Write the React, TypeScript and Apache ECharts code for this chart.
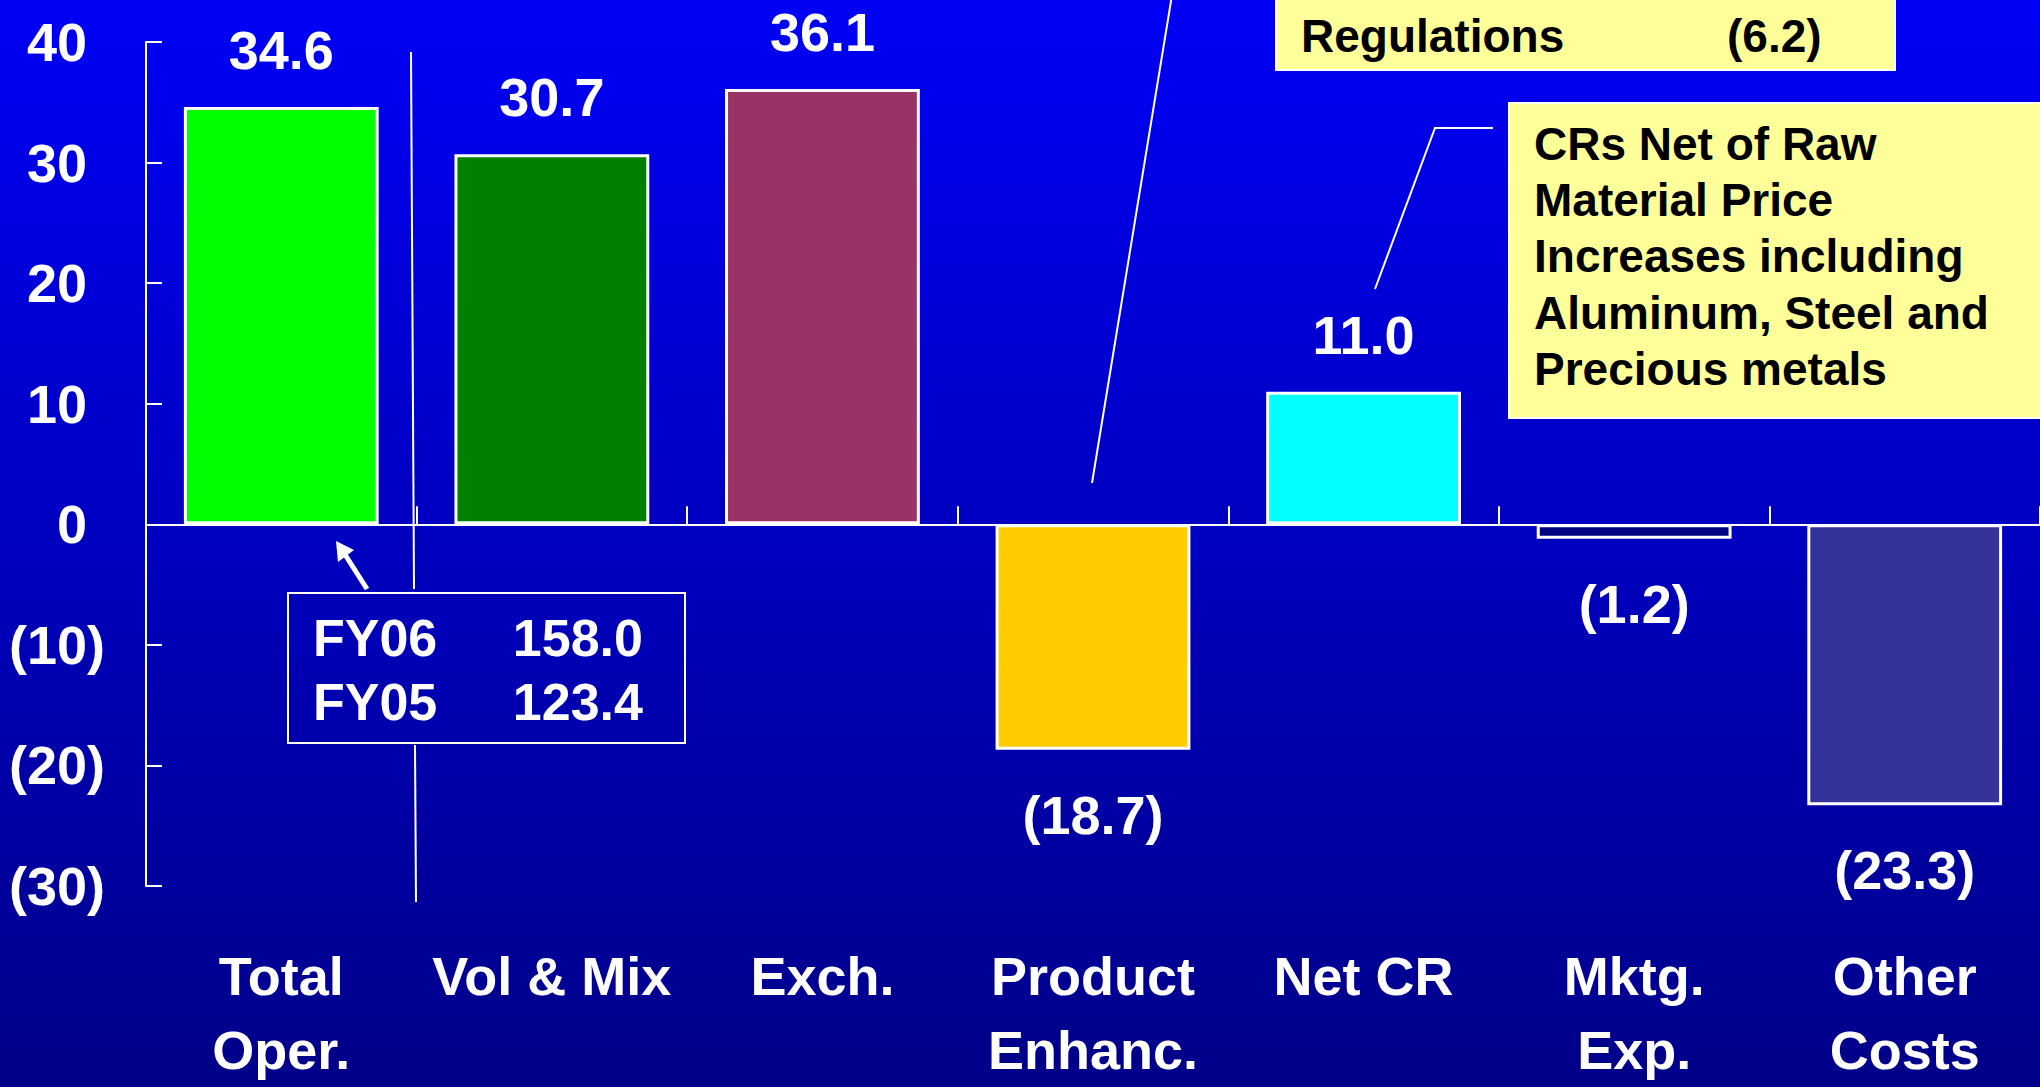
import React, { useEffect, useRef } from "react";
import * as echarts from "echarts";

const categories = ["Total\nOper.", "Vol & Mix", "Exch.", "Product\nEnhanc.", "Net CR", "Mktg.\nExp.", "Other\nCosts"];
const values = [34.6, 30.7, 36.1, -18.7, 11.0, -1.2, -23.3];
const barColors = ["#00FF00", "#008000", "#993366", "#FFCC00", "#00FFFF", "#000080", "#333399"];
const yMin = -30;
const yMax = 40;
const yInterval = 10;
const fyRows = [
  ["FY06", "158.0"],
  ["FY05", "123.4"],
];
const topNoteLabel = "Regulations";
const topNoteValue = "(6.2)";
const crNoteLines = ["CRs Net of Raw", "Material Price", "Increases including", "Aluminum, Steel and", "Precious metals"];

const FONT = '"Liberation Sans", Arial, Helvetica, sans-serif';

function fmt(v: number, digits: number) {
  return v < 0 ? `(${Math.abs(v).toFixed(digits)})` : v.toFixed(digits);
}

export default function App() {
  const ref = useRef<HTMLDivElement>(null);

  useEffect(() => {
    document.body.style.margin = "0";
    document.body.style.overflow = "hidden";
    if (!ref.current) return;
    const chart = echarts.init(ref.current, null, { renderer: "svg" });

    const textStyle = (size: number, color: string) => ({
      fill: color,
      fontSize: size,
      fontWeight: "bold",
      fontFamily: FONT,
    });

    const graphics: any[] = [
      // thin separator line (two segments around FY box)
      { type: "line", shape: { x1: 411, y1: 52, x2: 414, y2: 589 }, style: { stroke: "#fff", lineWidth: 2 }, z: 10 },
      { type: "line", shape: { x1: 415, y1: 745, x2: 416, y2: 902 }, style: { stroke: "#fff", lineWidth: 2 }, z: 10 },
      // FY box
      { type: "rect", shape: { x: 288, y: 593, width: 397, height: 150 }, style: { fill: "transparent", stroke: "#fff", lineWidth: 2 }, z: 10 },
      // arrow
      { type: "line", shape: { x1: 367, y1: 589, x2: 344, y2: 553 }, style: { stroke: "#fff", lineWidth: 5 }, z: 10 },
      { type: "polygon", shape: { points: [[336, 541], [354, 550], [338, 562]] }, style: { fill: "#fff" }, z: 10 },
      // slanted line to top note
      { type: "line", shape: { x1: 1092, y1: 483, x2: 1172, y2: -5 }, style: { stroke: "#fff", lineWidth: 2 }, z: 10 },
      // top yellow note
      { type: "rect", shape: { x: 1276, y: -20, width: 619, height: 90 }, style: { fill: "#FFFF99", stroke: "#fff", lineWidth: 2 }, z: 10 },
      { type: "text", x: 1301, y: 36, style: { ...textStyle(46, "#000"), text: topNoteLabel, align: "left", verticalAlign: "middle" }, z: 11 },
      { type: "text", x: 1727, y: 36, style: { ...textStyle(46, "#000"), text: topNoteValue, align: "left", verticalAlign: "middle" }, z: 11 },
      // CR connector
      { type: "polyline", shape: { points: [[1375, 289], [1435, 128], [1493, 128]] }, style: { stroke: "#fff", lineWidth: 2, fill: "none" }, z: 10 },
      // CR yellow note
      { type: "rect", shape: { x: 1509, y: 103, width: 600, height: 315 }, style: { fill: "#FFFF99", stroke: "#fff", lineWidth: 2 }, z: 10 },
    ];

    crNoteLines.forEach((line, i) => {
      graphics.push({
        type: "text",
        x: 1534,
        y: 144 + i * 56.2,
        style: { ...textStyle(46, "#000"), text: line, align: "left", verticalAlign: "middle" },
        z: 11,
      });
    });

    fyRows.forEach((row, i) => {
      graphics.push({
        type: "text",
        x: 313,
        y: 638 + i * 64,
        style: { ...textStyle(52, "#fff"), text: row[0], align: "left", verticalAlign: "middle" },
        z: 11,
      });
      graphics.push({
        type: "text",
        x: 643,
        y: 638 + i * 64,
        style: { ...textStyle(52, "#fff"), text: row[1], align: "right", verticalAlign: "middle" },
        z: 11,
      });
    });

    const option: any = {
      animation: false,
      backgroundColor: {
        type: "linear",
        x: 0,
        y: 0,
        x2: 0,
        y2: 1,
        colorStops: [
          { offset: 0, color: "#0000F6" },
          { offset: 1, color: "#000088" },
        ],
      },
      textStyle: { fontFamily: FONT },
      grid: { left: 146, top: 42, width: 1897, height: 855, containLabel: false },
      xAxis: [
        {
          type: "category",
          data: categories,
          position: "bottom",
          axisLine: { onZero: true, lineStyle: { color: "#fff", width: 2 } },
          axisTick: { show: true, inside: true, length: 18, lineStyle: { color: "#fff", width: 2 } },
          axisLabel: { show: false },
          splitLine: { show: false },
          z: 5,
        },
        {
          type: "category",
          data: categories,
          position: "bottom",
          axisLine: { show: false, onZero: false },
          axisTick: { show: false },
          axisLabel: {
            show: true,
            color: "#fff",
            fontSize: 54,
            fontWeight: "bold",
            fontFamily: FONT,
            lineHeight: 74,
            margin: 53,
            interval: 0,
          },
          splitLine: { show: false },
        },
      ],
      yAxis: {
        type: "value",
        min: yMin,
        max: yMax,
        interval: yInterval,
        axisLine: { show: true, lineStyle: { color: "#fff", width: 2 } },
        axisTick: { show: true, inside: true, length: 16, lineStyle: { color: "#fff", width: 2 } },
        splitLine: { show: false },
        axisLabel: {
          color: "#fff",
          fontSize: 54,
          fontWeight: "bold",
          fontFamily: FONT,
          margin: 41,
          formatter: (v: number) => (v < 0 ? `(${Math.abs(v)})` : `${v}{h|)}`),
          rich: {
            h: { color: "transparent", fontSize: 54, fontWeight: "bold", fontFamily: FONT },
          },
        },
      },
      series: [
        {
          type: "bar",
          xAxisIndex: 0,
          barCategoryGap: "28%",
          data: values.map((v, i) => ({
            value: v,
            itemStyle: { color: barColors[i], borderColor: "#fff", borderWidth: 3 },
            label: {
              show: true,
              position: v < 0 ? "bottom" : "top",
              distance: v < 0 ? 38 : 30,
            },
          })),
          label: {
            show: true,
            color: "#fff",
            fontSize: 54,
            fontWeight: "bold",
            fontFamily: FONT,
            formatter: (p: any) => fmt(p.value as number, 1),
          },
          z: 3,
        },
      ],
      graphic: graphics,
    };

    chart.setOption(option);
    return () => chart.dispose();
  }, []);

  return <div ref={ref} style={{ width: 2040, height: 1087 }} />;
}
